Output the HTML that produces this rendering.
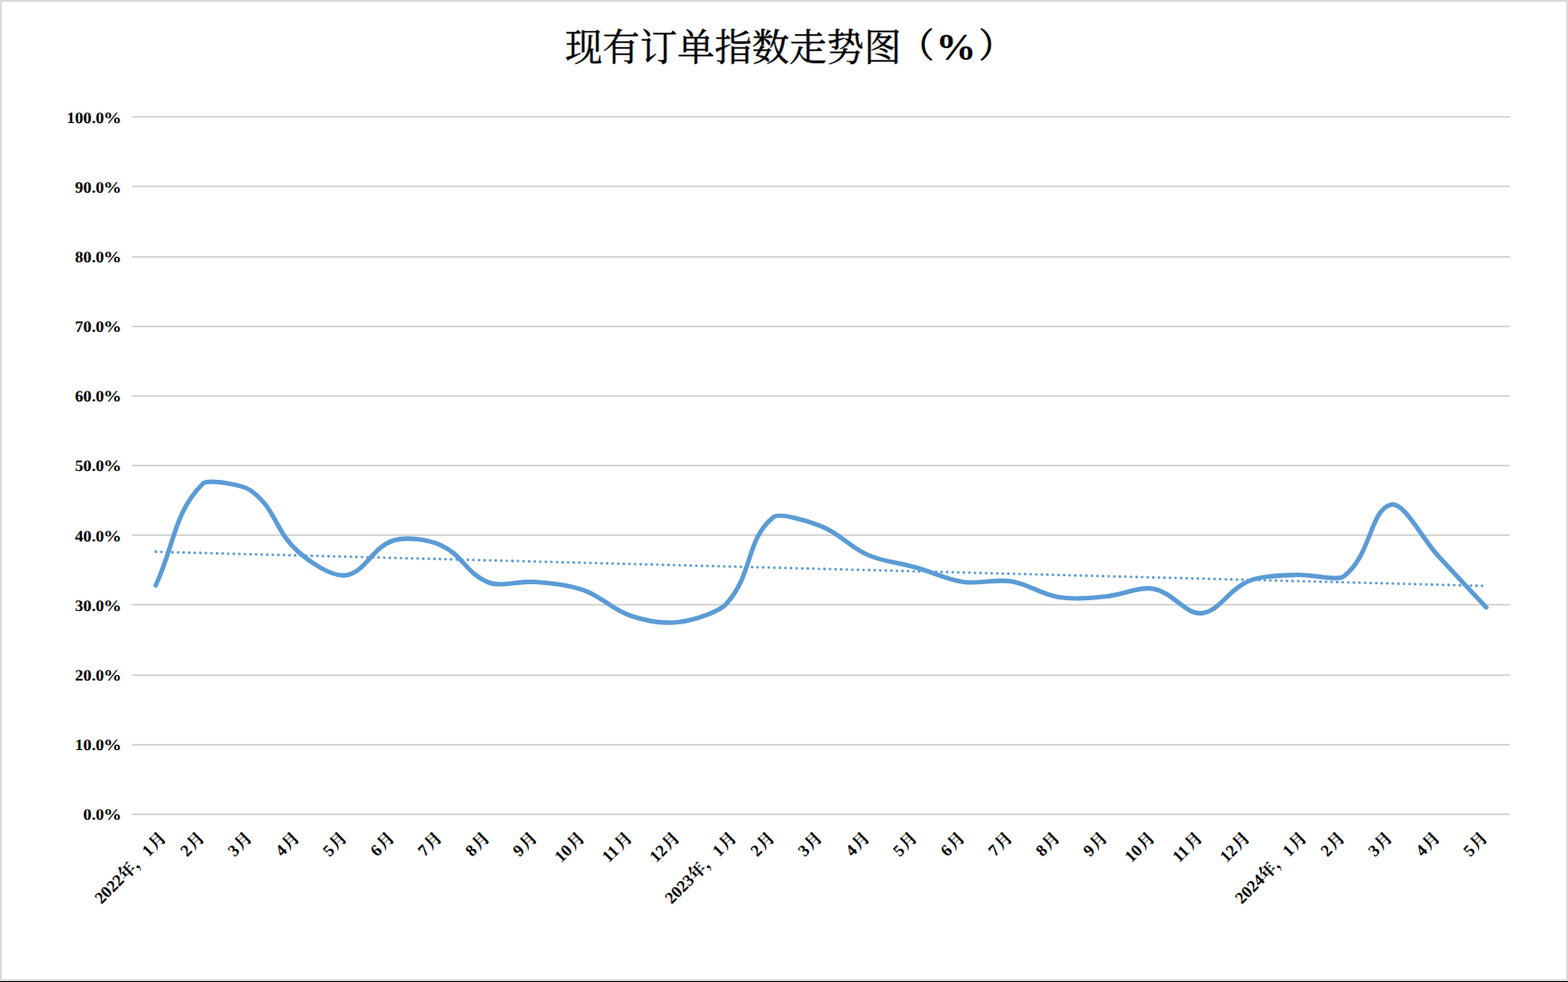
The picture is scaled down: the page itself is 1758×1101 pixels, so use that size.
<!DOCTYPE html>
<html><head><meta charset="utf-8"><title>现有订单指数走势图（%）</title>
<style>
html,body{margin:0;padding:0;background:#fff;}
body{width:1758px;height:1101px;overflow:hidden;font-family:"Liberation Serif","Noto Serif CJK SC",serif;}
svg{display:block;}
text{font-family:"Liberation Serif","Noto Serif CJK SC",serif;font-weight:bold;fill:#000;}
</style></head><body>
<svg role="img" aria-label="现有订单指数走势图（%）" width="1758" height="1101" viewBox="0 0 1758 1101">
<rect x="0" y="0" width="1758" height="1101" fill="#fff"/>
<rect x="0" y="0" width="1758" height="2" fill="#D9D9D9"/><rect x="0" y="0" width="2" height="1101" fill="#D9D9D9"/><rect x="1756" y="0" width="2" height="1101" fill="#D9D9D9"/><rect x="0" y="1098" width="1758" height="2" fill="#D9D9D9"/><rect x="0" y="1100" width="1758" height="1" fill="#000"/>
<rect x="148.0" y="912" width="1545.0" height="2" fill="#D7D7D7"/>
<rect x="148.0" y="834" width="1545.0" height="2" fill="#D7D7D7"/>
<rect x="148.0" y="756" width="1545.0" height="2" fill="#D7D7D7"/>
<rect x="148.0" y="677" width="1545.0" height="2" fill="#D7D7D7"/>
<rect x="148.0" y="599" width="1545.0" height="2" fill="#D7D7D7"/>
<rect x="148.0" y="521" width="1545.0" height="2" fill="#D7D7D7"/>
<rect x="148.0" y="443" width="1545.0" height="2" fill="#D7D7D7"/>
<rect x="148.0" y="365" width="1545.0" height="2" fill="#D7D7D7"/>
<rect x="148.0" y="287" width="1545.0" height="2" fill="#D7D7D7"/>
<rect x="148.0" y="208" width="1545.0" height="2" fill="#D7D7D7"/>
<rect x="148.0" y="130" width="1545.0" height="2" fill="#D7D7D7"/>
<text transform="translate(116.63,919) rotate(0.05) scale(1,0.95)" font-size="18.67" text-anchor="end">0.0</text><text transform="translate(116.03,919) rotate(0.05) scale(1.085,0.95)" font-size="18.67">%</text>
<text transform="translate(116.63,841) rotate(0.05) scale(1,0.95)" font-size="18.67" text-anchor="end">10.0</text><text transform="translate(116.03,841) rotate(0.05) scale(1.085,0.95)" font-size="18.67">%</text>
<text transform="translate(116.63,763) rotate(0.05) scale(1,0.95)" font-size="18.67" text-anchor="end">20.0</text><text transform="translate(116.03,763) rotate(0.05) scale(1.085,0.95)" font-size="18.67">%</text>
<text transform="translate(116.63,685) rotate(0.05) scale(1,0.95)" font-size="18.67" text-anchor="end">30.0</text><text transform="translate(116.03,685) rotate(0.05) scale(1.085,0.95)" font-size="18.67">%</text>
<text transform="translate(116.63,607) rotate(0.05) scale(1,0.95)" font-size="18.67" text-anchor="end">40.0</text><text transform="translate(116.03,607) rotate(0.05) scale(1.085,0.95)" font-size="18.67">%</text>
<text transform="translate(116.63,528) rotate(0.05) scale(1,0.95)" font-size="18.67" text-anchor="end">50.0</text><text transform="translate(116.03,528) rotate(0.05) scale(1.085,0.95)" font-size="18.67">%</text>
<text transform="translate(116.63,450) rotate(0.05) scale(1,0.95)" font-size="18.67" text-anchor="end">60.0</text><text transform="translate(116.03,450) rotate(0.05) scale(1.085,0.95)" font-size="18.67">%</text>
<text transform="translate(116.63,372) rotate(0.05) scale(1,0.95)" font-size="18.67" text-anchor="end">70.0</text><text transform="translate(116.03,372) rotate(0.05) scale(1.085,0.95)" font-size="18.67">%</text>
<text transform="translate(116.63,294) rotate(0.05) scale(1,0.95)" font-size="18.67" text-anchor="end">80.0</text><text transform="translate(116.03,294) rotate(0.05) scale(1.085,0.95)" font-size="18.67">%</text>
<text transform="translate(116.63,216) rotate(0.05) scale(1,0.95)" font-size="18.67" text-anchor="end">90.0</text><text transform="translate(116.03,216) rotate(0.05) scale(1.085,0.95)" font-size="18.67">%</text>
<text transform="translate(116.63,138) rotate(0.05) scale(1,0.95)" font-size="18.67" text-anchor="end">100.0</text><text transform="translate(116.03,138) rotate(0.05) scale(1.085,0.95)" font-size="18.67">%</text>
<text x="633.6" y="67.5" font-size="41.9" style="font-weight:normal" stroke="#000" stroke-width="0.4">现有订单指数走势图</text>
<text x="1046.9" y="64.3" font-size="38" text-anchor="end" style="font-weight:normal" stroke="#000" stroke-width="0.9">（</text>
<text x="1097.5" y="64.3" font-size="38" style="font-weight:normal" stroke="#000" stroke-width="0.9">）</text>
<text transform="translate(1049.2,66.8) scale(1.075,1.02)" font-size="42.0">%</text>
<g transform="translate(187.54,940.50) rotate(-45)"><text x="-104.39" y="0" font-size="18.67">2022</text><text x="-66.84" y="0" font-size="18.67">年</text><text x="-47.97" y="0" font-size="18.67">，</text><text x="-29.30" y="0" font-size="18.67">1</text><text x="-18.67" y="0" font-size="18.67">月</text></g>
<g transform="translate(230.41,940.50) rotate(-45)"><text x="-29.31" y="0" font-size="18.67">2</text><text x="-18.67" y="0" font-size="18.67">月</text></g>
<g transform="translate(283.69,940.50) rotate(-45)"><text x="-29.31" y="0" font-size="18.67">3</text><text x="-18.67" y="0" font-size="18.67">月</text></g>
<g transform="translate(336.97,940.50) rotate(-45)"><text x="-29.31" y="0" font-size="18.67">4</text><text x="-18.67" y="0" font-size="18.67">月</text></g>
<g transform="translate(390.24,940.50) rotate(-45)"><text x="-29.31" y="0" font-size="18.67">5</text><text x="-18.67" y="0" font-size="18.67">月</text></g>
<g transform="translate(443.52,940.50) rotate(-45)"><text x="-29.31" y="0" font-size="18.67">6</text><text x="-18.67" y="0" font-size="18.67">月</text></g>
<g transform="translate(496.79,940.50) rotate(-45)"><text x="-29.31" y="0" font-size="18.67">7</text><text x="-18.67" y="0" font-size="18.67">月</text></g>
<g transform="translate(550.07,940.50) rotate(-45)"><text x="-29.31" y="0" font-size="18.67">8</text><text x="-18.67" y="0" font-size="18.67">月</text></g>
<g transform="translate(603.34,940.50) rotate(-45)"><text x="-29.31" y="0" font-size="18.67">9</text><text x="-18.67" y="0" font-size="18.67">月</text></g>
<g transform="translate(656.62,940.50) rotate(-45)"><text x="-38.64" y="0" font-size="18.67">10</text><text x="-18.67" y="0" font-size="18.67">月</text></g>
<g transform="translate(709.90,940.50) rotate(-45)"><text x="-38.64" y="0" font-size="18.67">11</text><text x="-18.67" y="0" font-size="18.67">月</text></g>
<g transform="translate(763.17,940.50) rotate(-45)"><text x="-38.64" y="0" font-size="18.67">12</text><text x="-18.67" y="0" font-size="18.67">月</text></g>
<g transform="translate(826.85,940.50) rotate(-45)"><text x="-104.39" y="0" font-size="18.67">2023</text><text x="-66.84" y="0" font-size="18.67">年</text><text x="-47.97" y="0" font-size="18.67">，</text><text x="-29.30" y="0" font-size="18.67">1</text><text x="-18.67" y="0" font-size="18.67">月</text></g>
<g transform="translate(869.72,940.50) rotate(-45)"><text x="-29.31" y="0" font-size="18.67">2</text><text x="-18.67" y="0" font-size="18.67">月</text></g>
<g transform="translate(923.00,940.50) rotate(-45)"><text x="-29.31" y="0" font-size="18.67">3</text><text x="-18.67" y="0" font-size="18.67">月</text></g>
<g transform="translate(976.28,940.50) rotate(-45)"><text x="-29.31" y="0" font-size="18.67">4</text><text x="-18.67" y="0" font-size="18.67">月</text></g>
<g transform="translate(1029.55,940.50) rotate(-45)"><text x="-29.31" y="0" font-size="18.67">5</text><text x="-18.67" y="0" font-size="18.67">月</text></g>
<g transform="translate(1082.83,940.50) rotate(-45)"><text x="-29.31" y="0" font-size="18.67">6</text><text x="-18.67" y="0" font-size="18.67">月</text></g>
<g transform="translate(1136.10,940.50) rotate(-45)"><text x="-29.31" y="0" font-size="18.67">7</text><text x="-18.67" y="0" font-size="18.67">月</text></g>
<g transform="translate(1189.38,940.50) rotate(-45)"><text x="-29.31" y="0" font-size="18.67">8</text><text x="-18.67" y="0" font-size="18.67">月</text></g>
<g transform="translate(1242.66,940.50) rotate(-45)"><text x="-29.31" y="0" font-size="18.67">9</text><text x="-18.67" y="0" font-size="18.67">月</text></g>
<g transform="translate(1295.93,940.50) rotate(-45)"><text x="-38.64" y="0" font-size="18.67">10</text><text x="-18.67" y="0" font-size="18.67">月</text></g>
<g transform="translate(1349.21,940.50) rotate(-45)"><text x="-38.64" y="0" font-size="18.67">11</text><text x="-18.67" y="0" font-size="18.67">月</text></g>
<g transform="translate(1402.48,940.50) rotate(-45)"><text x="-38.64" y="0" font-size="18.67">12</text><text x="-18.67" y="0" font-size="18.67">月</text></g>
<g transform="translate(1466.16,940.50) rotate(-45)"><text x="-104.39" y="0" font-size="18.67">2024</text><text x="-66.84" y="0" font-size="18.67">年</text><text x="-47.97" y="0" font-size="18.67">，</text><text x="-29.30" y="0" font-size="18.67">1</text><text x="-18.67" y="0" font-size="18.67">月</text></g>
<g transform="translate(1509.03,940.50) rotate(-45)"><text x="-29.31" y="0" font-size="18.67">2</text><text x="-18.67" y="0" font-size="18.67">月</text></g>
<g transform="translate(1562.31,940.50) rotate(-45)"><text x="-29.31" y="0" font-size="18.67">3</text><text x="-18.67" y="0" font-size="18.67">月</text></g>
<g transform="translate(1615.59,940.50) rotate(-45)"><text x="-29.31" y="0" font-size="18.67">4</text><text x="-18.67" y="0" font-size="18.67">月</text></g>
<g transform="translate(1668.86,940.50) rotate(-45)"><text x="-29.31" y="0" font-size="18.67">5</text><text x="-18.67" y="0" font-size="18.67">月</text></g>
<line x1="174.64" y1="618.63" x2="1666.36" y2="656.93" stroke="#5B9BD5" stroke-width="3.1" stroke-linecap="round" stroke-dasharray="0.01 6.24"/>
<path d="M174.64,656.25C195.95,610.47 194.30,575.32 227.91,541.80C232.66,537.07 271.61,543.08 281.19,550.00C309.97,570.79 307.37,594.60 334.47,618.75C345.73,628.80 370.89,647.02 387.74,645.00C409.24,642.43 417.30,613.50 441.02,606.00C455.66,601.37 480.15,605.06 494.29,611.30C518.51,621.98 523.25,643.60 547.57,653.00C561.61,658.43 581.98,650.98 600.84,652.50C620.34,654.07 637.45,655.66 654.12,661.60C675.81,669.34 685.58,683.15 707.40,690.50C723.94,696.07 742.76,699.69 760.67,697.50C781.12,695.01 807.20,684.96 813.95,677.50C845.56,642.55 835.02,606.21 867.22,579.70C873.38,574.64 904.43,583.34 920.50,589.80C942.79,598.75 951.80,612.92 973.78,622.50C990.16,629.64 1008.14,630.93 1027.05,636.25C1046.50,641.73 1060.17,649.57 1080.33,652.50C1098.53,655.15 1115.58,648.87 1133.60,651.75C1153.94,654.99 1166.54,666.26 1186.88,669.50C1204.90,672.37 1221.25,670.35 1240.16,668.70C1259.61,667.00 1276.55,657.21 1293.43,660.20C1314.91,664.01 1329.10,689.04 1346.71,687.60C1367.46,685.91 1376.88,660.84 1399.98,651.50C1415.24,645.33 1433.90,645.45 1453.26,644.50C1472.26,643.56 1498.74,652.01 1506.53,646.25C1537.10,623.66 1536.27,570.67 1559.81,565.75C1574.63,562.66 1593.63,602.97 1613.09,624.00C1631.99,644.43 1645.05,658.14 1666.36,680.90" fill="none" stroke="#5B9BD5" stroke-width="5.1" stroke-linecap="round" stroke-linejoin="round"/>
</svg>
</body></html>
